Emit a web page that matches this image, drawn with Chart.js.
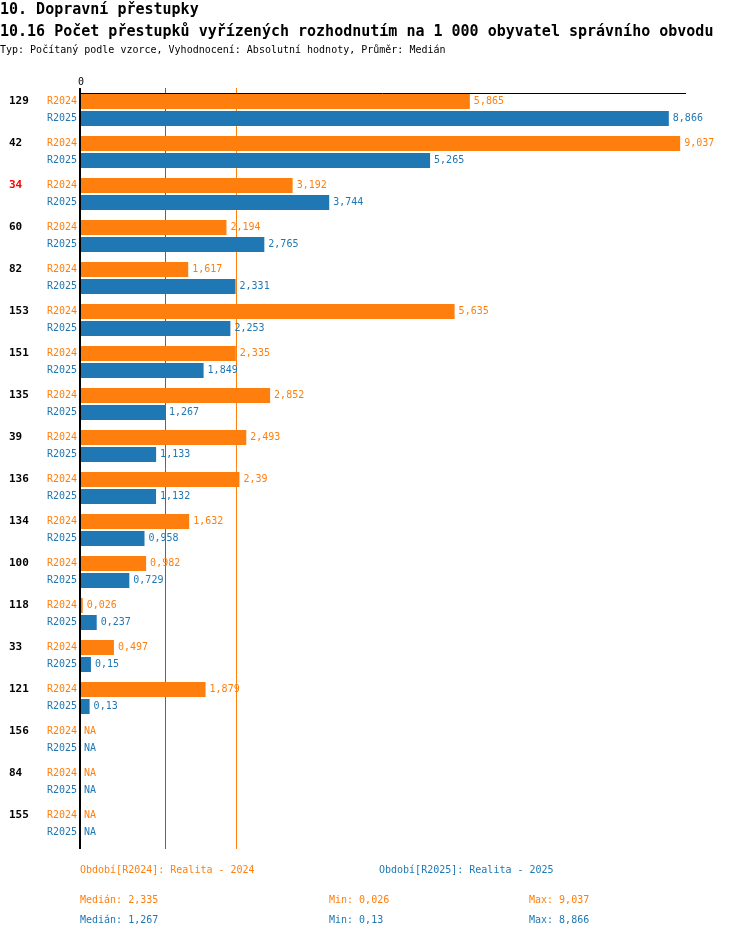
<!DOCTYPE html>
<html>
<head>
<meta charset="utf-8">
<script src="https://cdn.jsdelivr.net/npm/chart.js@4/dist/chart.umd.min.js"></script>
<style>
  body { margin: 0; background: #fff; }
  #wrap { position: relative; width: 750px; height: 938px; font-family: "DejaVu Sans Mono", monospace; }
  canvas { position: absolute; left: 0; top: 0; }
  .t { position: absolute; white-space: pre; line-height: 1; }
  .h1 { font-size: 15px; font-weight: bold; color: #000; }
  .sub { font-size: 10px; color: #000; }
  .f { font-size: 10px; }
  .o { color: #ff7f0e; }
  .b { color: #1f77b4; }
</style>
</head>
<body>
<div id="wrap">
  <canvas id="chart" width="750" height="938"></canvas>
  <div class="t h1" style="left:0;top:2px">10. Dopravní přestupky</div>
  <div class="t h1" style="left:0;top:24px">10.16 Počet přestupků vyřízených rozhodnutím na 1 000 obyvatel správního obvodu</div>
  <div class="t sub" style="left:0;top:45px">Typ: Počítaný podle vzorce, Vyhodnocení: Absolutní hodnoty, Průměr: Medián</div>

  <div class="t f o" style="left:80px;top:865px">Období[R2024]: Realita - 2024</div>
  <div class="t f b" style="left:379px;top:865px">Období[R2025]: Realita - 2025</div>
  <div class="t f o" style="left:80px;top:895px" id="med24"></div>
  <div class="t f o" style="left:329px;top:895px" id="min24"></div>
  <div class="t f o" style="left:529px;top:895px" id="max24"></div>
  <div class="t f b" style="left:80px;top:915px" id="med25"></div>
  <div class="t f b" style="left:329px;top:915px" id="min25"></div>
  <div class="t f b" style="left:529px;top:915px" id="max25"></div>
</div>
<script>
// hodnoty z grafu
var categories = ['129', '42', '34', '60', '82', '153', '151', '135', '39', '136', '134', '100', '118', '33', '121', '156', '84', '155'];
var r2024 = [5.865, 9.037, 3.192, 2.194, 1.617, 5.635, 2.335, 2.852, 2.493, 2.39, 1.632, 0.982, 0.026, 0.497, 1.879, null, null, null];
var r2025 = [8.866, 5.265, 3.744, 2.765, 2.331, 2.253, 1.849, 1.267, 1.133, 1.132, 0.958, 0.729, 0.237, 0.15, 0.13, null, null, null];
var seriesNames = ['R2024', 'R2025'];
var highlighted = '34';
var xTicks = [0];

var ORANGE = '#ff7f0e', BLUE = '#1f77b4';

function fmt(v) { return String(v).replace('.', ','); }
function median(arr) {
  var a = arr.filter(function (v) { return v !== null; }).sort(function (x, y) { return x - y; });
  var m = Math.floor(a.length / 2);
  return a.length % 2 ? a[m] : (a[m - 1] + a[m]) / 2;
}
function stats(arr) {
  var a = arr.filter(function (v) { return v !== null; });
  return { med: median(arr), min: Math.min.apply(null, a), max: Math.max.apply(null, a) };
}
var s24 = stats(r2024), s25 = stats(r2025);
document.getElementById('med24').textContent = 'Medián: ' + fmt(s24.med);
document.getElementById('min24').textContent = 'Min: ' + fmt(s24.min);
document.getElementById('max24').textContent = 'Max: ' + fmt(s24.max);
document.getElementById('med25').textContent = 'Medián: ' + fmt(s25.med);
document.getElementById('min25').textContent = 'Min: ' + fmt(s25.min);
document.getElementById('max25').textContent = 'Max: ' + fmt(s25.max);

var FONT = '"DejaVu Sans Mono", monospace';

// osy, mediány a popisky
var decor = {
  id: 'decor',
  beforeDatasetsDraw: function (chart) {
    var ctx = chart.ctx, x = chart.scales.x, area = chart.chartArea;
    var top = area.top + 4, bottom = area.bottom + 4;
    ctx.save();
    // median lines
    [[s25.med, BLUE], [s24.med, ORANGE]].forEach(function (m) {
      var px = Math.round(x.getPixelForValue(m[0])) + 0.5;
      ctx.strokeStyle = m[1];
      ctx.lineWidth = 1;
      ctx.beginPath();
      ctx.moveTo(px, top - 5);
      ctx.lineTo(px, bottom);
      ctx.stroke();
    });
    ctx.restore();
  },
  afterDatasetsDraw: function (chart) {
    var ctx = chart.ctx, x = chart.scales.x, area = chart.chartArea;
    var top = area.top + 4, bottom = area.bottom + 4;
    var x0 = x.getPixelForValue(0);
    ctx.save();
    // top axis
    ctx.strokeStyle = '#000';
    ctx.lineWidth = 1;
    ctx.beginPath();
    ctx.moveTo(x0 - 2, top + 0.5);
    ctx.lineTo(area.right, top + 0.5);
    ctx.stroke();
    // left axis
    ctx.lineWidth = 2;
    ctx.beginPath();
    ctx.moveTo(x0 - 1, top - 5);
    ctx.lineTo(x0 - 1, bottom);
    ctx.stroke();
    // tick labels
    ctx.font = '10px ' + FONT;
    ctx.fillStyle = '#000';
    ctx.textAlign = 'center';
    ctx.textBaseline = 'middle';
    xTicks.forEach(function (t) { ctx.fillText(String(t), x.getPixelForValue(t), top - 11); });

    var colors = [ORANGE, BLUE];
    chart.data.datasets.forEach(function (ds, di) {
      var meta = chart.getDatasetMeta(di);
      meta.data.forEach(function (bar, i) {
        var y = bar.y;
        // series label
        ctx.font = '10px ' + FONT;
        ctx.fillStyle = colors[di];
        ctx.textAlign = 'right';
        ctx.fillText(seriesNames[di], x0 - 4, y);
        // value label
        ctx.textAlign = 'left';
        var v = ds.data[i];
        if (v === null) {
          ctx.fillText('NA', x0 + 3, y);
        } else {
          ctx.fillText(fmt(v), Math.max(bar.x, x0) + 4, y);
        }
        // category label
        if (di === 0) {
          ctx.font = 'bold 11px ' + FONT;
          ctx.fillStyle = categories[i] === highlighted ? '#ff0000' : '#000';
          ctx.fillText(categories[i], 9, y);
        }
      });
    });
    ctx.restore();
  }
};

new Chart(document.getElementById('chart'), {
  type: 'bar',
  data: {
    labels: categories,
    datasets: [
      { label: seriesNames[0], data: r2024, backgroundColor: ORANGE, borderWidth: 0 },
      { label: seriesNames[1], data: r2025, backgroundColor: BLUE, borderWidth: 0 }
    ]
  },
  options: {
    indexAxis: 'y',
    responsive: false,
    animation: false,
    devicePixelRatio: 1,
    layout: { padding: { left: 81, right: 64, top: 89, bottom: 93 } },
    categoryPercentage: 34 / 42,
    barPercentage: 15 / 17,
    scales: {
      x: { display: false, min: 0, max: 9.125 },
      y: { display: false }
    },
    plugins: { legend: { display: false }, tooltip: { enabled: false } }
  },
  plugins: [decor]
});
</script>
</body>
</html>
